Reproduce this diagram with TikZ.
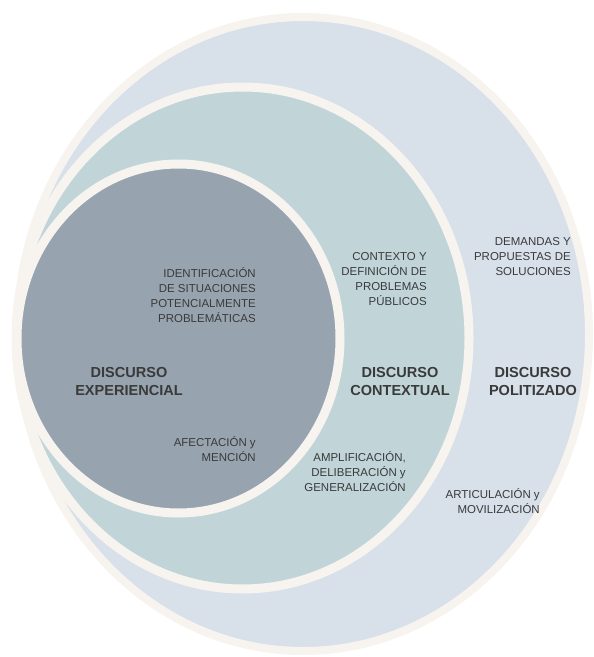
\documentclass[tikz,border=0pt]{standalone}
\usepackage{fontspec}
\setmainfont{Liberation Sans}

\definecolor{crema}{HTML}{F7F4F0}
\definecolor{cPolitizado}{HTML}{D8E0EA}
\definecolor{cContextual}{HTML}{C1D5D9}
\definecolor{cExperiencial}{HTML}{97A4AF}
\definecolor{tinta}{HTML}{3A3A3A}

\tikzset{
  anillo/.style={draw=crema, line width=#1*0.75pt},
  % multi-line nodes sit on the baseline of their last line
  nota/.style={font=\fontsize{8.6}{11.25}\selectfont, text=tinta,
    align=right, anchor=base east, inner sep=0pt},
  titulo/.style={font=\fontsize{10.9}{13.1}\selectfont\bfseries, text=tinta,
    align=center, anchor=base, inner sep=0pt}
}

\begin{document}
\begin{tikzpicture}[x=0.75pt,y=-0.75pt]
      \useasboundingbox (0,0) rectangle (593,657);

      % the three discs, largest first
      \draw[anillo=8, fill=cPolitizado] (303,334) ellipse [x radius=286, y radius=317];
      \draw[anillo=9, fill=cContextual] (242.5,338) ellipse [x radius=226.5, y radius=251];
      \draw[anillo=9, fill=cExperiencial] (178.5,338.5) ellipse [x radius=161.5, y radius=174.5];

      \node[nota] (identificacion) at (256,322) {IDENTIFICACIÓN\\DE SITUACIONES\\POTENCIALMENTE\\PROBLEMÁTICAS};
      \node[titulo] (experiencial) at (129,395) {DISCURSO\\EXPERIENCIAL};
      \node[nota] (afectacion) at (256,461) {AFECTACIÓN y\\MENCIÓN};

      \node[nota] (contexto) at (427,305) {CONTEXTO Y\\DEFINICIÓN DE\\PROBLEMAS\\PÚBLICOS};
      \node[titulo] (contextual) at (400,395) {DISCURSO\\CONTEXTUAL};
      \node[nota] (amplificacion) at (406,491) {AMPLIFICACIÓN,\\DELIBERACIÓN y\\GENERALIZACIÓN};

      \node[nota] (demandas) at (571,275) {DEMANDAS Y\\PROPUESTAS DE\\SOLUCIONES};
      \node[titulo] (politizado) at (533,395) {DISCURSO\\POLITIZADO};
      \node[nota] (articulacion) at (540,513) {ARTICULACIÓN y\\MOVILIZACIÓN};
    \end{tikzpicture}
\end{document}
